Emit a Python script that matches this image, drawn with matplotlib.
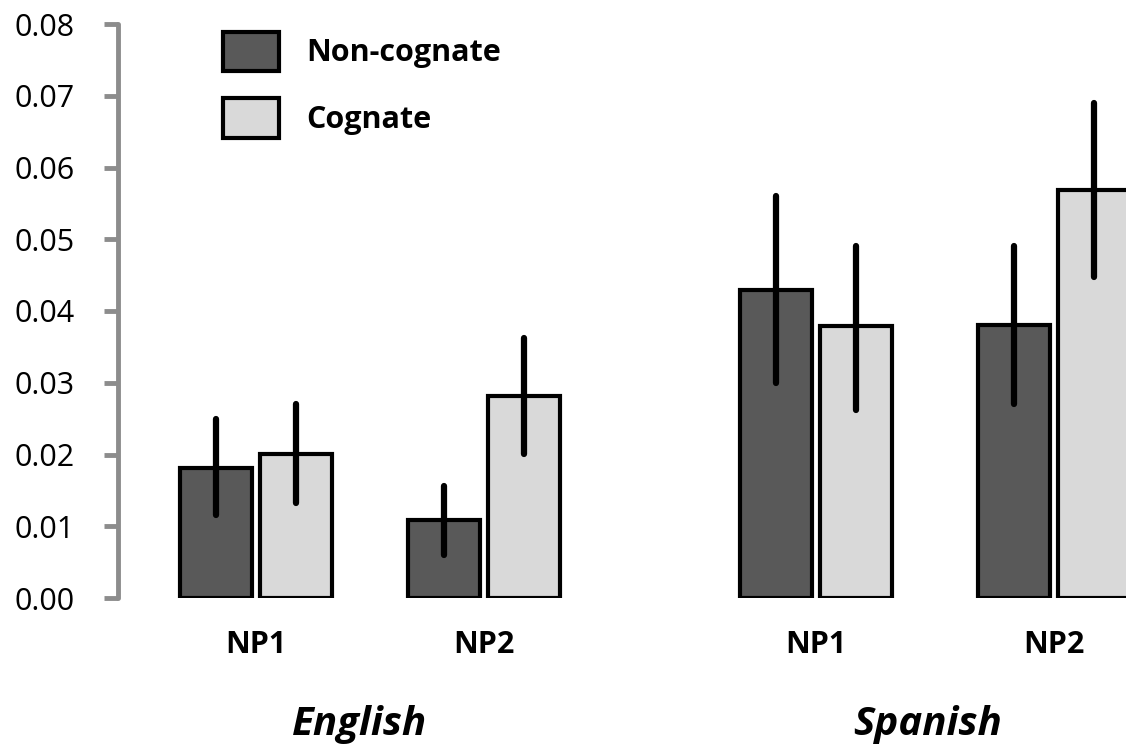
import matplotlib.pyplot as plt
from matplotlib.patches import Patch

plt.rcParams['font.family'] = ['Open Sans', 'DejaVu Sans']

groups = ["NP1", "NP2", "NP1", "NP2"]
languages = ["English", "Spanish"]
noncog = [0.0181, 0.0109, 0.0429, 0.0380]
noncog_lo = [0.0115, 0.0060, 0.0300, 0.0270]
noncog_hi = [0.0250, 0.0156, 0.0560, 0.0490]
cog = [0.0201, 0.0282, 0.0379, 0.0569]
cog_lo = [0.0132, 0.0201, 0.0262, 0.0448]
cog_hi = [0.0270, 0.0363, 0.0490, 0.0690]

# layout in pixel units
centers = [256, 484, 816, 1054]
lang_centers = [360, 928]
bar_w = 72
gap = 4

dark = "#595959"
light = "#d9d9d9"
gray = "#8c8c8c"

W, H = 1126, 754
fig = plt.figure(figsize=(W / 100, H / 100), dpi=100)
ax = fig.add_axes([118 / W, (H - 598) / H, (W - 118) / W, (598 - 24) / H])

x1 = [c - bar_w / 2 - gap for c in centers]
x2 = [c + bar_w / 2 + gap for c in centers]
ax.bar(x1, noncog, width=bar_w, color=dark, edgecolor="black", linewidth=3)
ax.bar(x2, cog, width=bar_w, color=light, edgecolor="black", linewidth=3)

for xs, lo, hi in [(x1, noncog_lo, noncog_hi), (x2, cog_lo, cog_hi)]:
    for x, l, h in zip(xs, lo, hi):
        ax.plot([x, x], [l, h], color="black", lw=4.5, solid_capstyle="round")

ax.set_xlim(118, W)
ax.set_ylim(0, 0.08)
ax.set_yticks([i / 100 for i in range(9)])
ax.set_yticklabels([f"{i / 100:.2f}" for i in range(9)], fontsize=22)
ax.tick_params(axis="y", direction="out", length=10, width=3.5, color=gray, pad=21)
ax.set_xticks(centers)
ax.set_xticklabels(groups, fontsize=22, fontweight="bold")
ax.tick_params(axis="x", length=0, pad=23)

for s in ["top", "right", "bottom"]:
    ax.spines[s].set_visible(False)
ax.spines["left"].set_color(gray)
ax.spines["left"].set_linewidth(3.5)
ax.spines["left"].set_capstyle("round")

for lang, c in zip(languages, lang_centers):
    fig.text(c / W, (H - 725) / H, lang, ha="center", va="center",
             fontsize=29, fontweight="bold", fontstyle="italic")

handles = [Patch(facecolor=dark, edgecolor="black", linewidth=3, label="Non-cognate"),
           Patch(facecolor=light, edgecolor="black", linewidth=3, label="Cognate")]
leg = fig.legend(handles=handles, loc="upper left", bbox_to_anchor=(195 / W, (H - 4) / H),
                 frameon=False, prop={"size": 22, "weight": "bold"},
                 handlelength=1.85, handleheight=1.6, labelspacing=0.9, handletextpad=0.9)

fig.savefig("out.png", dpi=100)
